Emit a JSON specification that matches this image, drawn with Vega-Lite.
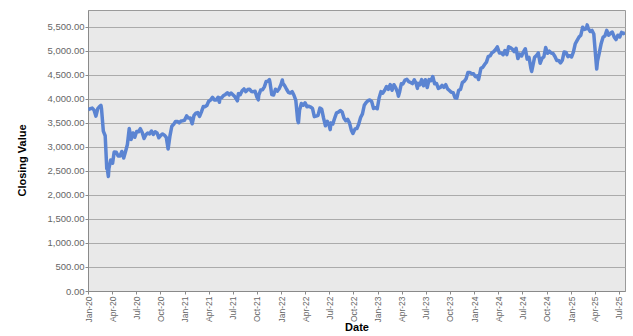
{
  "$schema": "https://vega.github.io/schema/vega-lite/v6.json",
  "width": 537,
  "height": 281,
  "autosize": {"type": "none"},
  "padding": {"left": 88, "top": 10, "right": 8, "bottom": 45},
  "background": "#ffffff",
  "config": {
    "view": {"fill": "#e9e9e9", "stroke": "#9a9a9a", "strokeWidth": 1},
    "font": "Liberation Sans"
  },
  "data": {"values": [
    {"date": "2020-01-02", "close": 3773}, {"date": "2020-01-10", "close": 3796}, {"date": "2020-01-17", "close": 3808},
    {"date": "2020-01-24", "close": 3765}, {"date": "2020-01-31", "close": 3640}, {"date": "2020-02-07", "close": 3798},
    {"date": "2020-02-14", "close": 3840}, {"date": "2020-02-19", "close": 3865}, {"date": "2020-02-21", "close": 3800},
    {"date": "2020-02-28", "close": 3329}, {"date": "2020-03-06", "close": 3232}, {"date": "2020-03-12", "close": 2546},
    {"date": "2020-03-13", "close": 2586}, {"date": "2020-03-18", "close": 2385}, {"date": "2020-03-20", "close": 2549},
    {"date": "2020-03-27", "close": 2728}, {"date": "2020-04-03", "close": 2662}, {"date": "2020-04-09", "close": 2893},
    {"date": "2020-04-17", "close": 2888}, {"date": "2020-04-24", "close": 2809}, {"date": "2020-05-01", "close": 2810},
    {"date": "2020-05-08", "close": 2905}, {"date": "2020-05-15", "close": 2770}, {"date": "2020-05-22", "close": 2905},
    {"date": "2020-05-29", "close": 3050}, {"date": "2020-06-05", "close": 3384}, {"date": "2020-06-12", "close": 3153},
    {"date": "2020-06-19", "close": 3290}, {"date": "2020-06-26", "close": 3200}, {"date": "2020-07-03", "close": 3320},
    {"date": "2020-07-10", "close": 3315}, {"date": "2020-07-17", "close": 3380}, {"date": "2020-07-24", "close": 3300},
    {"date": "2020-07-31", "close": 3174}, {"date": "2020-08-07", "close": 3252}, {"date": "2020-08-14", "close": 3290},
    {"date": "2020-08-21", "close": 3270}, {"date": "2020-08-28", "close": 3330}, {"date": "2020-09-04", "close": 3260},
    {"date": "2020-09-11", "close": 3315}, {"date": "2020-09-18", "close": 3290}, {"date": "2020-09-25", "close": 3190},
    {"date": "2020-10-02", "close": 3240}, {"date": "2020-10-09", "close": 3270}, {"date": "2020-10-16", "close": 3245},
    {"date": "2020-10-23", "close": 3200}, {"date": "2020-10-30", "close": 2958}, {"date": "2020-11-06", "close": 3230},
    {"date": "2020-11-13", "close": 3430}, {"date": "2020-11-20", "close": 3470}, {"date": "2020-11-27", "close": 3530},
    {"date": "2020-12-04", "close": 3530}, {"date": "2020-12-11", "close": 3500}, {"date": "2020-12-18", "close": 3540},
    {"date": "2020-12-24", "close": 3545}, {"date": "2020-12-31", "close": 3553},
    {"date": "2021-01-08", "close": 3645}, {"date": "2021-01-15", "close": 3600}, {"date": "2021-01-22", "close": 3602},
    {"date": "2021-01-29", "close": 3481}, {"date": "2021-02-05", "close": 3656}, {"date": "2021-02-12", "close": 3700},
    {"date": "2021-02-19", "close": 3713}, {"date": "2021-02-26", "close": 3636}, {"date": "2021-03-05", "close": 3730},
    {"date": "2021-03-12", "close": 3840}, {"date": "2021-03-19", "close": 3837}, {"date": "2021-03-26", "close": 3867},
    {"date": "2021-04-01", "close": 3945}, {"date": "2021-04-09", "close": 3979}, {"date": "2021-04-16", "close": 4032},
    {"date": "2021-04-23", "close": 3976}, {"date": "2021-04-30", "close": 3975}, {"date": "2021-05-07", "close": 4034},
    {"date": "2021-05-12", "close": 3930}, {"date": "2021-05-14", "close": 4017}, {"date": "2021-05-21", "close": 4025},
    {"date": "2021-05-28", "close": 4071}, {"date": "2021-06-04", "close": 4093}, {"date": "2021-06-11", "close": 4127},
    {"date": "2021-06-18", "close": 4083}, {"date": "2021-06-25", "close": 4122}, {"date": "2021-07-02", "close": 4085},
    {"date": "2021-07-09", "close": 4047}, {"date": "2021-07-19", "close": 3960}, {"date": "2021-07-23", "close": 4109},
    {"date": "2021-07-30", "close": 4089}, {"date": "2021-08-06", "close": 4170}, {"date": "2021-08-13", "close": 4206},
    {"date": "2021-08-20", "close": 4150}, {"date": "2021-08-27", "close": 4193}, {"date": "2021-09-03", "close": 4200},
    {"date": "2021-09-10", "close": 4155}, {"date": "2021-09-17", "close": 4150}, {"date": "2021-09-24", "close": 4160},
    {"date": "2021-10-01", "close": 4035}, {"date": "2021-10-06", "close": 3980}, {"date": "2021-10-08", "close": 4080},
    {"date": "2021-10-15", "close": 4183}, {"date": "2021-10-22", "close": 4190}, {"date": "2021-10-29", "close": 4250},
    {"date": "2021-11-05", "close": 4363}, {"date": "2021-11-12", "close": 4368}, {"date": "2021-11-17", "close": 4401},
    {"date": "2021-11-19", "close": 4350}, {"date": "2021-11-26", "close": 4089}, {"date": "2021-12-03", "close": 4080},
    {"date": "2021-12-10", "close": 4200}, {"date": "2021-12-17", "close": 4161}, {"date": "2021-12-24", "close": 4210},
    {"date": "2021-12-31", "close": 4298},
    {"date": "2022-01-05", "close": 4392}, {"date": "2022-01-07", "close": 4325}, {"date": "2022-01-14", "close": 4272},
    {"date": "2022-01-21", "close": 4200}, {"date": "2022-01-28", "close": 4137}, {"date": "2022-02-04", "close": 4120},
    {"date": "2022-02-11", "close": 4150}, {"date": "2022-02-18", "close": 4075}, {"date": "2022-02-25", "close": 3970},
    {"date": "2022-03-04", "close": 3556}, {"date": "2022-03-07", "close": 3505}, {"date": "2022-03-11", "close": 3760},
    {"date": "2022-03-18", "close": 3903}, {"date": "2022-03-25", "close": 3867}, {"date": "2022-04-01", "close": 3918},
    {"date": "2022-04-08", "close": 3835}, {"date": "2022-04-14", "close": 3848}, {"date": "2022-04-22", "close": 3830},
    {"date": "2022-04-29", "close": 3802}, {"date": "2022-05-06", "close": 3630}, {"date": "2022-05-13", "close": 3640},
    {"date": "2022-05-20", "close": 3657}, {"date": "2022-05-27", "close": 3808}, {"date": "2022-06-03", "close": 3783},
    {"date": "2022-06-10", "close": 3599}, {"date": "2022-06-17", "close": 3439}, {"date": "2022-06-24", "close": 3533},
    {"date": "2022-07-01", "close": 3448}, {"date": "2022-07-05", "close": 3360}, {"date": "2022-07-08", "close": 3500},
    {"date": "2022-07-15", "close": 3477}, {"date": "2022-07-22", "close": 3600}, {"date": "2022-07-29", "close": 3708},
    {"date": "2022-08-05", "close": 3725}, {"date": "2022-08-12", "close": 3757}, {"date": "2022-08-19", "close": 3730},
    {"date": "2022-08-26", "close": 3603}, {"date": "2022-09-02", "close": 3544}, {"date": "2022-09-09", "close": 3573},
    {"date": "2022-09-16", "close": 3500}, {"date": "2022-09-23", "close": 3348}, {"date": "2022-09-29", "close": 3279},
    {"date": "2022-10-07", "close": 3375}, {"date": "2022-10-14", "close": 3382}, {"date": "2022-10-21", "close": 3477},
    {"date": "2022-10-28", "close": 3613}, {"date": "2022-11-04", "close": 3688}, {"date": "2022-11-11", "close": 3867},
    {"date": "2022-11-18", "close": 3924}, {"date": "2022-11-25", "close": 3962}, {"date": "2022-12-02", "close": 3977},
    {"date": "2022-12-09", "close": 3942}, {"date": "2022-12-16", "close": 3800}, {"date": "2022-12-23", "close": 3817},
    {"date": "2022-12-30", "close": 3794},
    {"date": "2023-01-06", "close": 4017}, {"date": "2023-01-13", "close": 4151}, {"date": "2023-01-20", "close": 4119},
    {"date": "2023-01-27", "close": 4178}, {"date": "2023-02-03", "close": 4257}, {"date": "2023-02-10", "close": 4197},
    {"date": "2023-02-17", "close": 4296}, {"date": "2023-02-24", "close": 4179}, {"date": "2023-03-03", "close": 4294},
    {"date": "2023-03-10", "close": 4229}, {"date": "2023-03-17", "close": 4130}, {"date": "2023-03-20", "close": 4056},
    {"date": "2023-03-24", "close": 4130}, {"date": "2023-03-31", "close": 4315}, {"date": "2023-04-06", "close": 4309},
    {"date": "2023-04-14", "close": 4392}, {"date": "2023-04-21", "close": 4408}, {"date": "2023-04-28", "close": 4359},
    {"date": "2023-05-05", "close": 4340}, {"date": "2023-05-12", "close": 4318}, {"date": "2023-05-19", "close": 4395},
    {"date": "2023-05-26", "close": 4321}, {"date": "2023-05-31", "close": 4218}, {"date": "2023-06-02", "close": 4324},
    {"date": "2023-06-09", "close": 4290}, {"date": "2023-06-16", "close": 4400}, {"date": "2023-06-23", "close": 4272},
    {"date": "2023-06-30", "close": 4399}, {"date": "2023-07-07", "close": 4235}, {"date": "2023-07-14", "close": 4400},
    {"date": "2023-07-21", "close": 4380}, {"date": "2023-07-28", "close": 4466}, {"date": "2023-08-04", "close": 4313},
    {"date": "2023-08-11", "close": 4320}, {"date": "2023-08-18", "close": 4218}, {"date": "2023-08-25", "close": 4236},
    {"date": "2023-09-01", "close": 4280}, {"date": "2023-09-08", "close": 4240}, {"date": "2023-09-15", "close": 4295},
    {"date": "2023-09-22", "close": 4207}, {"date": "2023-09-29", "close": 4174}, {"date": "2023-10-06", "close": 4136},
    {"date": "2023-10-13", "close": 4130}, {"date": "2023-10-20", "close": 4024}, {"date": "2023-10-27", "close": 4015},
    {"date": "2023-11-03", "close": 4180}, {"date": "2023-11-10", "close": 4198}, {"date": "2023-11-17", "close": 4340},
    {"date": "2023-11-24", "close": 4365}, {"date": "2023-12-01", "close": 4418}, {"date": "2023-12-08", "close": 4549},
    {"date": "2023-12-15", "close": 4550}, {"date": "2023-12-22", "close": 4525}, {"date": "2023-12-29", "close": 4521},
    {"date": "2024-01-05", "close": 4463}, {"date": "2024-01-12", "close": 4480}, {"date": "2024-01-17", "close": 4403},
    {"date": "2024-01-19", "close": 4449}, {"date": "2024-01-26", "close": 4635}, {"date": "2024-02-02", "close": 4655},
    {"date": "2024-02-09", "close": 4716}, {"date": "2024-02-16", "close": 4765}, {"date": "2024-02-23", "close": 4885},
    {"date": "2024-03-01", "close": 4895}, {"date": "2024-03-08", "close": 4961}, {"date": "2024-03-15", "close": 4986},
    {"date": "2024-03-22", "close": 5031}, {"date": "2024-03-28", "close": 5083}, {"date": "2024-04-05", "close": 4955},
    {"date": "2024-04-12", "close": 4955}, {"date": "2024-04-19", "close": 4918}, {"date": "2024-04-26", "close": 5006},
    {"date": "2024-05-03", "close": 4921}, {"date": "2024-05-10", "close": 5085}, {"date": "2024-05-17", "close": 5064},
    {"date": "2024-05-24", "close": 5036}, {"date": "2024-05-31", "close": 4984}, {"date": "2024-06-07", "close": 5051},
    {"date": "2024-06-14", "close": 4839}, {"date": "2024-06-21", "close": 4934}, {"date": "2024-06-28", "close": 4894},
    {"date": "2024-07-05", "close": 4979}, {"date": "2024-07-12", "close": 5043}, {"date": "2024-07-19", "close": 4827},
    {"date": "2024-07-26", "close": 4862}, {"date": "2024-08-02", "close": 4638}, {"date": "2024-08-05", "close": 4571},
    {"date": "2024-08-09", "close": 4678}, {"date": "2024-08-16", "close": 4865}, {"date": "2024-08-23", "close": 4900},
    {"date": "2024-08-30", "close": 4958}, {"date": "2024-09-06", "close": 4740}, {"date": "2024-09-13", "close": 4842},
    {"date": "2024-09-20", "close": 4872}, {"date": "2024-09-27", "close": 5068}, {"date": "2024-10-04", "close": 4949},
    {"date": "2024-10-11", "close": 4992}, {"date": "2024-10-18", "close": 4953}, {"date": "2024-10-25", "close": 4943},
    {"date": "2024-11-01", "close": 4881}, {"date": "2024-11-08", "close": 4800}, {"date": "2024-11-15", "close": 4801},
    {"date": "2024-11-22", "close": 4749}, {"date": "2024-11-29", "close": 4804}, {"date": "2024-12-06", "close": 4977},
    {"date": "2024-12-13", "close": 4968}, {"date": "2024-12-20", "close": 4880}, {"date": "2024-12-27", "close": 4899},
    {"date": "2024-12-31", "close": 4896},
    {"date": "2025-01-03", "close": 4871}, {"date": "2025-01-10", "close": 4977}, {"date": "2025-01-17", "close": 5148},
    {"date": "2025-01-24", "close": 5219}, {"date": "2025-01-31", "close": 5286}, {"date": "2025-02-07", "close": 5325},
    {"date": "2025-02-14", "close": 5492}, {"date": "2025-02-21", "close": 5447}, {"date": "2025-02-28", "close": 5463},
    {"date": "2025-03-03", "close": 5540}, {"date": "2025-03-07", "close": 5468}, {"date": "2025-03-14", "close": 5404},
    {"date": "2025-03-21", "close": 5425}, {"date": "2025-03-28", "close": 5350}, {"date": "2025-04-04", "close": 4879},
    {"date": "2025-04-08", "close": 4622}, {"date": "2025-04-11", "close": 4788}, {"date": "2025-04-17", "close": 4935},
    {"date": "2025-04-25", "close": 5154}, {"date": "2025-05-02", "close": 5285}, {"date": "2025-05-09", "close": 5310},
    {"date": "2025-05-16", "close": 5427}, {"date": "2025-05-23", "close": 5326}, {"date": "2025-05-30", "close": 5366},
    {"date": "2025-06-06", "close": 5390}, {"date": "2025-06-13", "close": 5290}, {"date": "2025-06-20", "close": 5233},
    {"date": "2025-06-27", "close": 5325}, {"date": "2025-07-04", "close": 5288}, {"date": "2025-07-11", "close": 5383},
    {"date": "2025-07-18", "close": 5358}, {"date": "2025-07-24", "close": 5380}
  ]},
  "mark": {"type": "line", "color": "#5b84d2", "strokeWidth": 3.5, "strokeJoin": "round", "clip": true},
  "encoding": {
    "x": {
      "field": "date",
      "type": "temporal",
      "scale": {"type": "utc", "domain": [{"year": 2020, "month": 1, "date": 1, "utc": true}, {"year": 2025, "month": 7, "date": 24, "utc": true}], "nice": false},
      "axis": {
        "title": "Date",
        "titleFont": "Liberation Sans",
        "titleFontSize": 11,
        "titleFontWeight": "bold",
        "titleColor": "#000000",
        "titleY": 36,
        "titleBaseline": "middle",
        "labelExpr": "utcFormat(datum.value, '%b-%y')",
        "values": [
          {"year": 2020, "month": 1, "date": 1, "utc": true}, {"year": 2020, "month": 4, "date": 1, "utc": true},
          {"year": 2020, "month": 7, "date": 1, "utc": true}, {"year": 2020, "month": 10, "date": 1, "utc": true},
          {"year": 2021, "month": 1, "date": 1, "utc": true}, {"year": 2021, "month": 4, "date": 1, "utc": true},
          {"year": 2021, "month": 7, "date": 1, "utc": true}, {"year": 2021, "month": 10, "date": 1, "utc": true},
          {"year": 2022, "month": 1, "date": 1, "utc": true}, {"year": 2022, "month": 4, "date": 1, "utc": true},
          {"year": 2022, "month": 7, "date": 1, "utc": true}, {"year": 2022, "month": 10, "date": 1, "utc": true},
          {"year": 2023, "month": 1, "date": 1, "utc": true}, {"year": 2023, "month": 4, "date": 1, "utc": true},
          {"year": 2023, "month": 7, "date": 1, "utc": true}, {"year": 2023, "month": 10, "date": 1, "utc": true},
          {"year": 2024, "month": 1, "date": 1, "utc": true}, {"year": 2024, "month": 4, "date": 1, "utc": true},
          {"year": 2024, "month": 7, "date": 1, "utc": true}, {"year": 2024, "month": 10, "date": 1, "utc": true},
          {"year": 2025, "month": 1, "date": 1, "utc": true}, {"year": 2025, "month": 4, "date": 1, "utc": true},
          {"year": 2025, "month": 7, "date": 1, "utc": true}
        ],
        "labelAngle": -90,
        "labelAlign": "right",
        "labelBaseline": "middle",
        "labelFont": "Liberation Sans",
        "labelFontSize": 8.5,
        "labelColor": "#666666",
        "labelPadding": 2,
        "labelOverlap": false,
        "labelFlush": false,
        "labelBound": false,
        "tickSize": 3,
        "tickColor": "#8a8a8a",
        "domainColor": "#8a8a8a",
        "grid": false
      }
    },
    "y": {
      "field": "close",
      "type": "quantitative",
      "scale": {"domain": [0, 5850], "nice": false, "zero": true},
      "axis": {
        "title": "Closing Value",
        "titleFont": "Liberation Sans",
        "titleFontSize": 11,
        "titleFontWeight": "bold",
        "titleColor": "#000000",
        "titleAngle": -90,
        "titleX": -66,
        "titleY": 150,
        "titleAlign": "center",
        "titleBaseline": "middle",
        "values": [0, 500, 1000, 1500, 2000, 2500, 3000, 3500, 4000, 4500, 5000, 5500],
        "format": ",.2f",
        "labelFont": "Liberation Sans",
        "labelFontSize": 9.5,
        "labelColor": "#666666",
        "labelPadding": 1,
        "tickSize": 3,
        "tickColor": "#8a8a8a",
        "domainColor": "#8a8a8a",
        "grid": true,
        "gridColor": "#ababab",
        "gridWidth": 1
      }
    }
  }
}
